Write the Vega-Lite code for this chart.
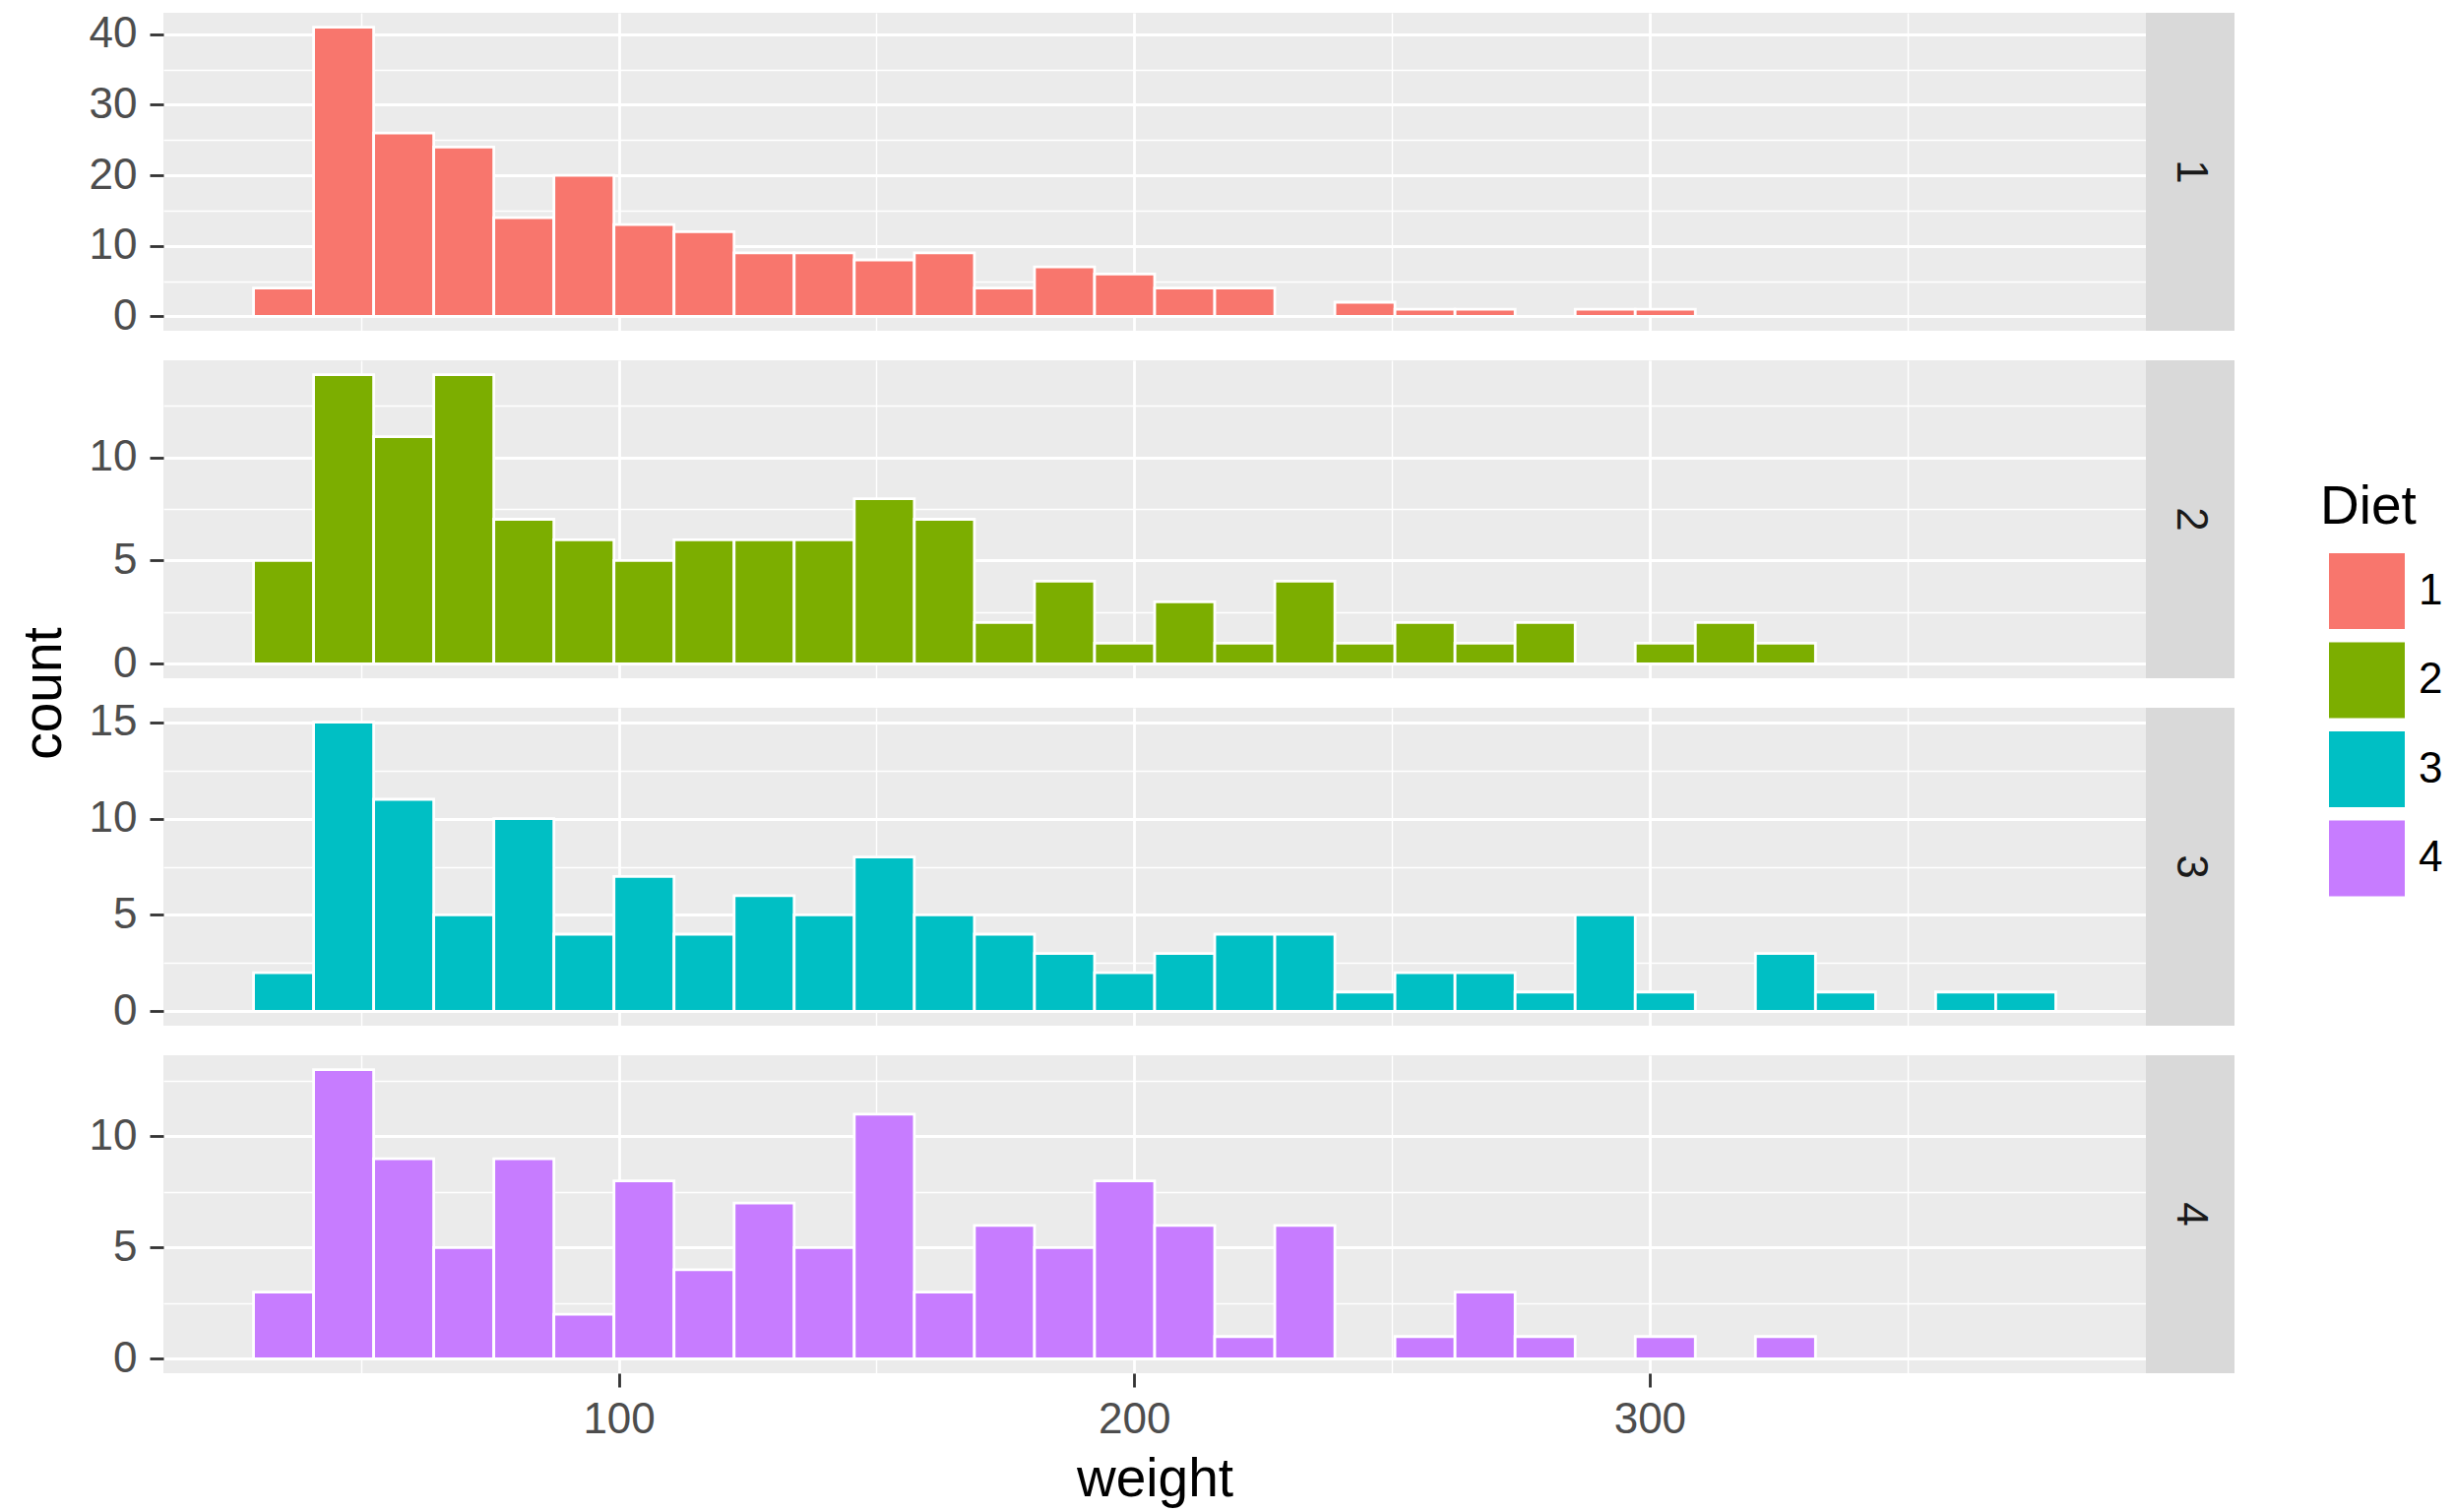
{
  "$schema": "https://vega.github.io/schema/vega-lite/v6.json",
  "background": "white",
  "autosize": {"type": "pad"},
  "padding": {"left": 17, "top": 12, "right": 4, "bottom": 4},
  "datasets": {
    "bins": [
      {"Diet":"1","bin_start":29.138,"bin_end":40.793,"count":4},
      {"Diet":"1","bin_start":40.793,"bin_end":52.448,"count":41},
      {"Diet":"1","bin_start":52.448,"bin_end":64.103,"count":26},
      {"Diet":"1","bin_start":64.103,"bin_end":75.759,"count":24},
      {"Diet":"1","bin_start":75.759,"bin_end":87.414,"count":14},
      {"Diet":"1","bin_start":87.414,"bin_end":99.069,"count":20},
      {"Diet":"1","bin_start":99.069,"bin_end":110.724,"count":13},
      {"Diet":"1","bin_start":110.724,"bin_end":122.379,"count":12},
      {"Diet":"1","bin_start":122.379,"bin_end":134.034,"count":9},
      {"Diet":"1","bin_start":134.034,"bin_end":145.690,"count":9},
      {"Diet":"1","bin_start":145.690,"bin_end":157.345,"count":8},
      {"Diet":"1","bin_start":157.345,"bin_end":169.000,"count":9},
      {"Diet":"1","bin_start":169.000,"bin_end":180.655,"count":4},
      {"Diet":"1","bin_start":180.655,"bin_end":192.310,"count":7},
      {"Diet":"1","bin_start":192.310,"bin_end":203.966,"count":6},
      {"Diet":"1","bin_start":203.966,"bin_end":215.621,"count":4},
      {"Diet":"1","bin_start":215.621,"bin_end":227.276,"count":4},
      {"Diet":"1","bin_start":227.276,"bin_end":238.931,"count":0},
      {"Diet":"1","bin_start":238.931,"bin_end":250.586,"count":2},
      {"Diet":"1","bin_start":250.586,"bin_end":262.241,"count":1},
      {"Diet":"1","bin_start":262.241,"bin_end":273.897,"count":1},
      {"Diet":"1","bin_start":273.897,"bin_end":285.552,"count":0},
      {"Diet":"1","bin_start":285.552,"bin_end":297.207,"count":1},
      {"Diet":"1","bin_start":297.207,"bin_end":308.862,"count":1},
      {"Diet":"1","bin_start":308.862,"bin_end":320.517,"count":0},
      {"Diet":"1","bin_start":320.517,"bin_end":332.172,"count":0},
      {"Diet":"1","bin_start":332.172,"bin_end":343.828,"count":0},
      {"Diet":"1","bin_start":343.828,"bin_end":355.483,"count":0},
      {"Diet":"1","bin_start":355.483,"bin_end":367.138,"count":0},
      {"Diet":"1","bin_start":367.138,"bin_end":378.793,"count":0},
      {"Diet":"2","bin_start":29.138,"bin_end":40.793,"count":5},
      {"Diet":"2","bin_start":40.793,"bin_end":52.448,"count":14},
      {"Diet":"2","bin_start":52.448,"bin_end":64.103,"count":11},
      {"Diet":"2","bin_start":64.103,"bin_end":75.759,"count":14},
      {"Diet":"2","bin_start":75.759,"bin_end":87.414,"count":7},
      {"Diet":"2","bin_start":87.414,"bin_end":99.069,"count":6},
      {"Diet":"2","bin_start":99.069,"bin_end":110.724,"count":5},
      {"Diet":"2","bin_start":110.724,"bin_end":122.379,"count":6},
      {"Diet":"2","bin_start":122.379,"bin_end":134.034,"count":6},
      {"Diet":"2","bin_start":134.034,"bin_end":145.690,"count":6},
      {"Diet":"2","bin_start":145.690,"bin_end":157.345,"count":8},
      {"Diet":"2","bin_start":157.345,"bin_end":169.000,"count":7},
      {"Diet":"2","bin_start":169.000,"bin_end":180.655,"count":2},
      {"Diet":"2","bin_start":180.655,"bin_end":192.310,"count":4},
      {"Diet":"2","bin_start":192.310,"bin_end":203.966,"count":1},
      {"Diet":"2","bin_start":203.966,"bin_end":215.621,"count":3},
      {"Diet":"2","bin_start":215.621,"bin_end":227.276,"count":1},
      {"Diet":"2","bin_start":227.276,"bin_end":238.931,"count":4},
      {"Diet":"2","bin_start":238.931,"bin_end":250.586,"count":1},
      {"Diet":"2","bin_start":250.586,"bin_end":262.241,"count":2},
      {"Diet":"2","bin_start":262.241,"bin_end":273.897,"count":1},
      {"Diet":"2","bin_start":273.897,"bin_end":285.552,"count":2},
      {"Diet":"2","bin_start":285.552,"bin_end":297.207,"count":0},
      {"Diet":"2","bin_start":297.207,"bin_end":308.862,"count":1},
      {"Diet":"2","bin_start":308.862,"bin_end":320.517,"count":2},
      {"Diet":"2","bin_start":320.517,"bin_end":332.172,"count":1},
      {"Diet":"2","bin_start":332.172,"bin_end":343.828,"count":0},
      {"Diet":"2","bin_start":343.828,"bin_end":355.483,"count":0},
      {"Diet":"2","bin_start":355.483,"bin_end":367.138,"count":0},
      {"Diet":"2","bin_start":367.138,"bin_end":378.793,"count":0},
      {"Diet":"3","bin_start":29.138,"bin_end":40.793,"count":2},
      {"Diet":"3","bin_start":40.793,"bin_end":52.448,"count":15},
      {"Diet":"3","bin_start":52.448,"bin_end":64.103,"count":11},
      {"Diet":"3","bin_start":64.103,"bin_end":75.759,"count":5},
      {"Diet":"3","bin_start":75.759,"bin_end":87.414,"count":10},
      {"Diet":"3","bin_start":87.414,"bin_end":99.069,"count":4},
      {"Diet":"3","bin_start":99.069,"bin_end":110.724,"count":7},
      {"Diet":"3","bin_start":110.724,"bin_end":122.379,"count":4},
      {"Diet":"3","bin_start":122.379,"bin_end":134.034,"count":6},
      {"Diet":"3","bin_start":134.034,"bin_end":145.690,"count":5},
      {"Diet":"3","bin_start":145.690,"bin_end":157.345,"count":8},
      {"Diet":"3","bin_start":157.345,"bin_end":169.000,"count":5},
      {"Diet":"3","bin_start":169.000,"bin_end":180.655,"count":4},
      {"Diet":"3","bin_start":180.655,"bin_end":192.310,"count":3},
      {"Diet":"3","bin_start":192.310,"bin_end":203.966,"count":2},
      {"Diet":"3","bin_start":203.966,"bin_end":215.621,"count":3},
      {"Diet":"3","bin_start":215.621,"bin_end":227.276,"count":4},
      {"Diet":"3","bin_start":227.276,"bin_end":238.931,"count":4},
      {"Diet":"3","bin_start":238.931,"bin_end":250.586,"count":1},
      {"Diet":"3","bin_start":250.586,"bin_end":262.241,"count":2},
      {"Diet":"3","bin_start":262.241,"bin_end":273.897,"count":2},
      {"Diet":"3","bin_start":273.897,"bin_end":285.552,"count":1},
      {"Diet":"3","bin_start":285.552,"bin_end":297.207,"count":5},
      {"Diet":"3","bin_start":297.207,"bin_end":308.862,"count":1},
      {"Diet":"3","bin_start":308.862,"bin_end":320.517,"count":0},
      {"Diet":"3","bin_start":320.517,"bin_end":332.172,"count":3},
      {"Diet":"3","bin_start":332.172,"bin_end":343.828,"count":1},
      {"Diet":"3","bin_start":343.828,"bin_end":355.483,"count":0},
      {"Diet":"3","bin_start":355.483,"bin_end":367.138,"count":1},
      {"Diet":"3","bin_start":367.138,"bin_end":378.793,"count":1},
      {"Diet":"4","bin_start":29.138,"bin_end":40.793,"count":3},
      {"Diet":"4","bin_start":40.793,"bin_end":52.448,"count":13},
      {"Diet":"4","bin_start":52.448,"bin_end":64.103,"count":9},
      {"Diet":"4","bin_start":64.103,"bin_end":75.759,"count":5},
      {"Diet":"4","bin_start":75.759,"bin_end":87.414,"count":9},
      {"Diet":"4","bin_start":87.414,"bin_end":99.069,"count":2},
      {"Diet":"4","bin_start":99.069,"bin_end":110.724,"count":8},
      {"Diet":"4","bin_start":110.724,"bin_end":122.379,"count":4},
      {"Diet":"4","bin_start":122.379,"bin_end":134.034,"count":7},
      {"Diet":"4","bin_start":134.034,"bin_end":145.690,"count":5},
      {"Diet":"4","bin_start":145.690,"bin_end":157.345,"count":11},
      {"Diet":"4","bin_start":157.345,"bin_end":169.000,"count":3},
      {"Diet":"4","bin_start":169.000,"bin_end":180.655,"count":6},
      {"Diet":"4","bin_start":180.655,"bin_end":192.310,"count":5},
      {"Diet":"4","bin_start":192.310,"bin_end":203.966,"count":8},
      {"Diet":"4","bin_start":203.966,"bin_end":215.621,"count":6},
      {"Diet":"4","bin_start":215.621,"bin_end":227.276,"count":1},
      {"Diet":"4","bin_start":227.276,"bin_end":238.931,"count":6},
      {"Diet":"4","bin_start":238.931,"bin_end":250.586,"count":0},
      {"Diet":"4","bin_start":250.586,"bin_end":262.241,"count":1},
      {"Diet":"4","bin_start":262.241,"bin_end":273.897,"count":3},
      {"Diet":"4","bin_start":273.897,"bin_end":285.552,"count":1},
      {"Diet":"4","bin_start":285.552,"bin_end":297.207,"count":0},
      {"Diet":"4","bin_start":297.207,"bin_end":308.862,"count":1},
      {"Diet":"4","bin_start":308.862,"bin_end":320.517,"count":0},
      {"Diet":"4","bin_start":320.517,"bin_end":332.172,"count":1},
      {"Diet":"4","bin_start":332.172,"bin_end":343.828,"count":0},
      {"Diet":"4","bin_start":343.828,"bin_end":355.483,"count":0},
      {"Diet":"4","bin_start":355.483,"bin_end":367.138,"count":0},
      {"Diet":"4","bin_start":367.138,"bin_end":378.793,"count":0}
    ],
    "diets": [{"Diet":"1"},{"Diet":"2"},{"Diet":"3"},{"Diet":"4"}]
  },
  "data": {"name": "bins"},
  "config": {
    "font": "Liberation Sans",
    "view": {"fill": "#EBEBEB", "stroke": null},
    "axis": {
      "gridColor": "#FFFFFF", "gridOpacity": 1, "domain": false,
      "tickColor": "#333333", "tickSize": 14, "tickWidth": 2.8,
      "labelFontSize": 44, "labelColor": "#4D4D4D", "labelPadding": 13, "labelOverlap": false,
      "titleFontSize": 55, "titleColor": "#000000", "titleFontWeight": "normal"
    },
    "axisX": {"labelPadding": 11, "titlePadding": 12, "labelFlush": false},
    "legend": {
      "orient": "none", "legendX": 2191, "legendY": 476, "padding": 0,
      "titleFontSize": 55, "titleColor": "#000000", "titleFontWeight": "normal", "titlePadding": 18,
      "labelFontSize": 44, "labelColor": "#000000", "labelOffset": 14,
      "symbolType": "square", "symbolSize": 5929, "symbolStrokeWidth": 0, "symbolOffset": 9,
      "rowPadding": 13.5
    }
  },
  "spacing": 0,
  "hconcat": [
    {
      "spacing": 30,
      "bounds": "flush",
      "vconcat": [
        {
          "width": 2014, "height": 323,
          "transform": [{"filter": "datum.Diet === '1'"}],
          "mark": {"type": "bar", "stroke": "white", "strokeWidth": 2.8},
          "encoding": {
            "x": {"field": "bin_start", "type": "quantitative",
              "scale": {"domain": [11.655, 396.276], "nice": false, "zero": false},
              "axis": {"values": [50, 100, 150, 200, 250, 300, 350], "labels": false, "ticks": false, "title": null,
                "gridWidth": {"condition": {"test": "datum.value % 100 === 0", "value": 2.8}, "value": 1.4}}},
            "x2": {"field": "bin_end"},
            "y": {"field": "count", "type": "quantitative",
              "scale": {"domain": [-2.05, 43.05], "nice": false, "zero": false},
              "axis": {"values": [0, 5, 10, 15, 20, 25, 30, 35, 40], "title": null,
                "labelExpr": "datum.value % 10 === 0 ? datum.label : ''",
                "tickOpacity": {"condition": {"test": "datum.value % 10 === 0", "value": 1}, "value": 0},
                "gridWidth": {"condition": {"test": "datum.value % 10 === 0", "value": 2.8}, "value": 1.4}}},
            "y2": {"datum": 0},
            "color": {"field": "Diet", "type": "nominal",
              "scale": {"domain": ["1", "2", "3", "4"], "range": ["#F8766D", "#7CAE00", "#00BFC4", "#C77CFF"]}}
          }
        },
        {
          "width": 2014, "height": 323,
          "transform": [{"filter": "datum.Diet === '2'"}],
          "mark": {"type": "bar", "stroke": "white", "strokeWidth": 2.8},
          "encoding": {
            "x": {"field": "bin_start", "type": "quantitative",
              "scale": {"domain": [11.655, 396.276], "nice": false, "zero": false},
              "axis": {"values": [50, 100, 150, 200, 250, 300, 350], "labels": false, "ticks": false, "title": null,
                "gridWidth": {"condition": {"test": "datum.value % 100 === 0", "value": 2.8}, "value": 1.4}}},
            "x2": {"field": "bin_end"},
            "y": {"field": "count", "type": "quantitative",
              "scale": {"domain": [-0.7, 14.7], "nice": false, "zero": false},
              "axis": {"values": [0, 2.5, 5, 7.5, 10, 12.5], "title": "count",
                "titleX": -105, "titleY": 338, "titleAngle": 270, "titleAlign": "center", "titleBaseline": "alphabetic",
                "labelExpr": "datum.value % 5 === 0 ? datum.label : ''",
                "tickOpacity": {"condition": {"test": "datum.value % 5 === 0", "value": 1}, "value": 0},
                "gridWidth": {"condition": {"test": "datum.value % 5 === 0", "value": 2.8}, "value": 1.4}}},
            "y2": {"datum": 0},
            "color": {"field": "Diet", "type": "nominal",
              "scale": {"domain": ["1", "2", "3", "4"], "range": ["#F8766D", "#7CAE00", "#00BFC4", "#C77CFF"]}}
          }
        },
        {
          "width": 2014, "height": 323,
          "transform": [{"filter": "datum.Diet === '3'"}],
          "mark": {"type": "bar", "stroke": "white", "strokeWidth": 2.8},
          "encoding": {
            "x": {"field": "bin_start", "type": "quantitative",
              "scale": {"domain": [11.655, 396.276], "nice": false, "zero": false},
              "axis": {"values": [50, 100, 150, 200, 250, 300, 350], "labels": false, "ticks": false, "title": null,
                "gridWidth": {"condition": {"test": "datum.value % 100 === 0", "value": 2.8}, "value": 1.4}}},
            "x2": {"field": "bin_end"},
            "y": {"field": "count", "type": "quantitative",
              "scale": {"domain": [-0.75, 15.75], "nice": false, "zero": false},
              "axis": {"values": [0, 2.5, 5, 7.5, 10, 12.5, 15], "title": null,
                "labelExpr": "datum.value % 5 === 0 ? datum.label : ''",
                "tickOpacity": {"condition": {"test": "datum.value % 5 === 0", "value": 1}, "value": 0},
                "gridWidth": {"condition": {"test": "datum.value % 5 === 0", "value": 2.8}, "value": 1.4}}},
            "y2": {"datum": 0},
            "color": {"field": "Diet", "type": "nominal",
              "scale": {"domain": ["1", "2", "3", "4"], "range": ["#F8766D", "#7CAE00", "#00BFC4", "#C77CFF"]}}
          }
        },
        {
          "width": 2014, "height": 323,
          "transform": [{"filter": "datum.Diet === '4'"}],
          "mark": {"type": "bar", "stroke": "white", "strokeWidth": 2.8},
          "encoding": {
            "x": {"field": "bin_start", "type": "quantitative",
              "scale": {"domain": [11.655, 396.276], "nice": false, "zero": false},
              "axis": {"values": [50, 100, 150, 200, 250, 300, 350], "title": "weight",
                "labelExpr": "datum.value % 100 === 0 ? datum.label : ''",
                "tickOpacity": {"condition": {"test": "datum.value % 100 === 0", "value": 1}, "value": 0},
                "gridWidth": {"condition": {"test": "datum.value % 100 === 0", "value": 2.8}, "value": 1.4}}},
            "x2": {"field": "bin_end"},
            "y": {"field": "count", "type": "quantitative",
              "scale": {"domain": [-0.65, 13.65], "nice": false, "zero": false},
              "axis": {"values": [0, 2.5, 5, 7.5, 10, 12.5], "title": null,
                "labelExpr": "datum.value % 5 === 0 ? datum.label : ''",
                "tickOpacity": {"condition": {"test": "datum.value % 5 === 0", "value": 1}, "value": 0},
                "gridWidth": {"condition": {"test": "datum.value % 5 === 0", "value": 2.8}, "value": 1.4}}},
            "y2": {"datum": 0},
            "color": {"field": "Diet", "type": "nominal",
              "scale": {"domain": ["1", "2", "3", "4"], "range": ["#F8766D", "#7CAE00", "#00BFC4", "#C77CFF"]}}
          }
        }
      ]
    },
    {
      "spacing": 30,
      "bounds": "flush",
      "vconcat": [
        {
          "width": 90, "height": 323,
          "data": {"name": "diets"},
          "transform": [{"filter": "datum.Diet === '1'"}],
          "view": {"fill": "#D9D9D9", "stroke": null},
          "mark": {"type": "text", "angle": 90, "fontSize": 44, "color": "#1A1A1A", "align": "center", "baseline": "middle"},
          "encoding": {"text": {"field": "Diet"}}
        },
        {
          "width": 90, "height": 323,
          "data": {"name": "diets"},
          "transform": [{"filter": "datum.Diet === '2'"}],
          "view": {"fill": "#D9D9D9", "stroke": null},
          "mark": {"type": "text", "angle": 90, "fontSize": 44, "color": "#1A1A1A", "align": "center", "baseline": "middle"},
          "encoding": {"text": {"field": "Diet"}}
        },
        {
          "width": 90, "height": 323,
          "data": {"name": "diets"},
          "transform": [{"filter": "datum.Diet === '3'"}],
          "view": {"fill": "#D9D9D9", "stroke": null},
          "mark": {"type": "text", "angle": 90, "fontSize": 44, "color": "#1A1A1A", "align": "center", "baseline": "middle"},
          "encoding": {"text": {"field": "Diet"}}
        },
        {
          "width": 90, "height": 323,
          "data": {"name": "diets"},
          "transform": [{"filter": "datum.Diet === '4'"}],
          "view": {"fill": "#D9D9D9", "stroke": null},
          "mark": {"type": "text", "angle": 90, "fontSize": 44, "color": "#1A1A1A", "align": "center", "baseline": "middle"},
          "encoding": {"text": {"field": "Diet"}}
        }
      ]
    }
  ]
}
